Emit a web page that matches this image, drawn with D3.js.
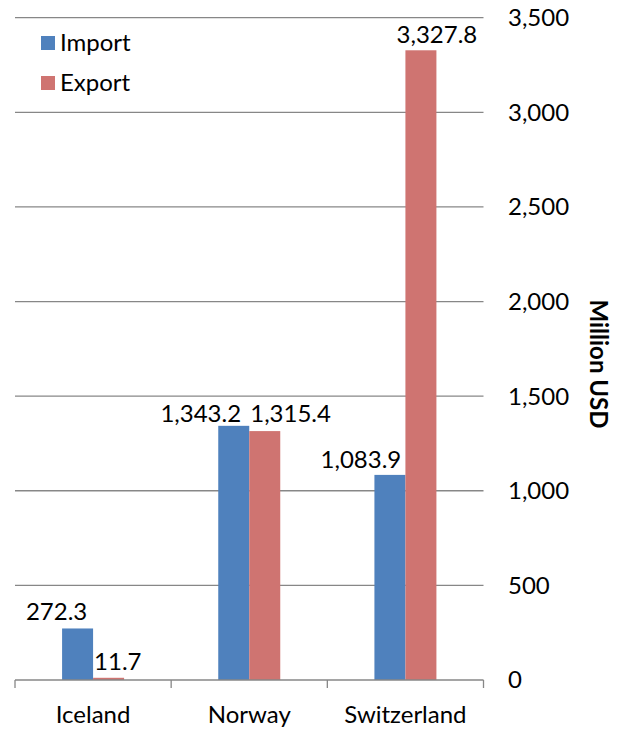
<!DOCTYPE html>
<html>
<head>
<meta charset="utf-8">
<script src="https://cdn.jsdelivr.net/npm/d3@7/dist/d3.min.js"></script>
<style>
  html, body { margin: 0; padding: 0; background: #fff; }
  svg { display: block; }
  text { font-family: Lato, "Open Sans", sans-serif; fill: #000; }
</style>
</head>
<body>
<svg id="chart" width="624" height="729"></svg>
<script>
// ---- data ----
const categories = ["Iceland", "Norway", "Switzerland"];
const seriesNames = ["Import", "Export"];
const importValues = [272.3, 1343.2, 1083.9];
const exportValues = [11.7, 1315.4, 3327.8];
const yTicks = [0, 500, 1000, 1500, 2000, 2500, 3000, 3500];
const yTitle = "Million USD";

// ---- layout ----
const W = 624, H = 729;
const plot = { left: 15, right: 483.5, top: 17.7, bottom: 680 };
const colors = ["#4F81BD", "#CF7471"];
const fontSize = 24;
// manual label offsets (dx from bar centre, dy above bar top) as in reference
const labelLayout = [
  [{ dx: -21, dy: 8, anchor: "middle" }, { dx: 0, dy: 8, anchor: "start", startAtBar: true }],
  [{ dx: -33, dy: 4, anchor: "middle" }, { dx: 0, dy: 9.5, anchor: "start", startAtBar: true }],
  [{ dx: -29, dy: 7, anchor: "middle" }, { dx: 0, dy: 7, anchor: "middle", shift: 16 }]
];

const svg = d3.select("#chart");

const x = d3.scaleBand()
  .domain(categories)
  .range([plot.left, plot.right])
  .paddingInner(0.603)
  .paddingOuter(0.3015);

const xs = d3.scaleBand()
  .domain(seriesNames)
  .range([0, x.bandwidth()]);

const y = d3.scaleLinear()
  .domain([0, 3500])
  .range([plot.bottom, plot.top]);

// gridlines
svg.append("g")
  .selectAll("line")
  .data(yTicks.filter(d => d > 0))
  .join("line")
  .attr("x1", plot.left)
  .attr("x2", plot.right)
  .attr("y1", d => y(d))
  .attr("y2", d => y(d))
  .attr("stroke", "#878787")
  .attr("stroke-width", 1.3);

// right axis labels (left-aligned)
svg.append("g")
  .selectAll("text")
  .data(yTicks)
  .join("text")
  .attr("x", 508)
  .attr("y", d => y(d))
  .attr("dy", "0.35em")
  .attr("font-size", fontSize)
  .text(d => d3.format(",")(d));

// bars
const seriesData = [importValues, exportValues];
const groups = svg.append("g")
  .selectAll("g")
  .data(categories)
  .join("g")
  .attr("transform", d => `translate(${x(d)},0)`);

groups.selectAll("rect")
  .data((c, i) => seriesNames.map((s, j) => ({ s, j, v: seriesData[j][i], i })))
  .join("rect")
  .attr("x", d => xs(d.s))
  .attr("width", xs.bandwidth())
  .attr("y", d => y(d.v))
  .attr("height", d => y(0) - y(d.v))
  .attr("fill", d => colors[d.j]);

// data labels
groups.selectAll("text.lbl")
  .data((c, i) => seriesNames.map((s, j) => ({ s, j, v: seriesData[j][i], i })))
  .join("text")
  .attr("class", "lbl")
  .attr("font-size", fontSize)
  .attr("text-anchor", d => labelLayout[d.i][d.j].anchor)
  .attr("x", d => {
    const L = labelLayout[d.i][d.j];
    if (L.startAtBar) return xs(d.s) + 1;
    return xs(d.s) + xs.bandwidth() / 2 + L.dx + (L.shift || 0);
  })
  .attr("y", d => y(d.v) - labelLayout[d.i][d.j].dy)
  .text(d => d3.format(",.1f")(d.v));

// x axis
const xAxis = svg.append("g");
xAxis.append("line")
  .attr("x1", plot.left).attr("x2", plot.right)
  .attr("y1", plot.bottom).attr("y2", plot.bottom)
  .attr("stroke", "#878787").attr("stroke-width", 1.3);
const tickPos = categories.map(c => x(c) - x.step() * x.paddingInner() / 2).concat([plot.right]);
xAxis.selectAll("line.tick")
  .data(tickPos)
  .join("line")
  .attr("class", "tick")
  .attr("x1", d => d).attr("x2", d => d)
  .attr("y1", plot.bottom).attr("y2", plot.bottom + 8)
  .attr("stroke", "#878787").attr("stroke-width", 1.3);
xAxis.selectAll("text")
  .data(categories)
  .join("text")
  .attr("x", d => x(d) + x.bandwidth() / 2)
  .attr("y", 723)
  .attr("text-anchor", "middle")
  .attr("font-size", fontSize)
  .text(d => d);

// y title
svg.append("text")
  .attr("transform", `translate(590,364) rotate(90)`)
  .attr("text-anchor", "middle")
  .attr("font-size", fontSize)
  .attr("font-weight", "bold")
  .text(yTitle);

// legend
const legend = svg.append("g");
seriesNames.forEach((s, j) => {
  legend.append("rect")
    .attr("x", 41).attr("y", 36 + j * 40)
    .attr("width", 14).attr("height", 14)
    .attr("fill", colors[j]);
  legend.append("text")
    .attr("x", 60).attr("y", 51 + j * 40)
    .attr("font-size", fontSize)
    .text(s);
});
</script>
</body>
</html>
